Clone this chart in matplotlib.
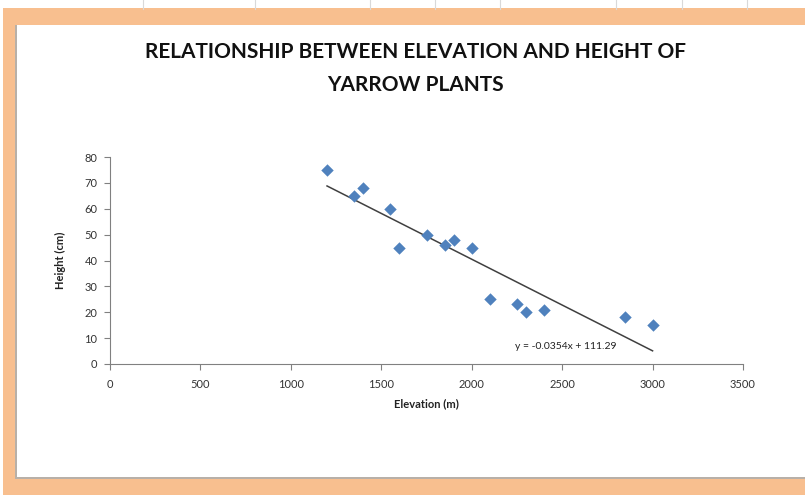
import matplotlib.pyplot as plt
from matplotlib.patches import Rectangle

# Elevation (m) and plant height (cm)
elevation = [1200, 1350, 1400, 1550, 1600, 1750, 1850, 1900, 2000, 2100, 2250, 2300, 2400, 2850, 3000]
height = [75, 65, 68, 60, 45, 50, 46, 48, 45, 25, 23, 20, 21, 18, 15]

# Linear trendline
slope = -0.0354
intercept = 111.29

x_ticks = [0, 500, 1000, 1500, 2000, 2500, 3000, 3500]
y_ticks = [0, 10, 20, 30, 40, 50, 60, 70, 80]

plt.rcParams['font.family'] = ['Lato', 'DejaVu Sans']

W, H = 805, 495
fig = plt.figure(figsize=(W / 100, H / 100), dpi=100)

# spreadsheet cells behind the chart
for gx in [143, 255, 370, 435, 500, 616, 682, 747]:
    fig.add_artist(plt.Line2D([gx / W, gx / W], [1, 1 - 9 / H], color='#d9d9d9', lw=0.8))

# orange frame and white chart box with soft shadow
fig.add_artist(Rectangle((3 / W, 0), 1, 1 - 8 / H, transform=fig.transFigure,
                         facecolor='#f8bf8f', edgecolor='none', zorder=0))
fig.add_artist(Rectangle((15 / W, 1 - 479 / H), 1, (479 - 25) / H, transform=fig.transFigure,
                         facecolor='#b8b0a8', edgecolor='none', zorder=0))
fig.add_artist(Rectangle((17 / W, 1 - 477 / H), 1, (477 - 25) / H, transform=fig.transFigure,
                         facecolor='white', edgecolor='none', zorder=0))

ax = fig.add_axes([110 / W, 1 - 364 / H, 633 / W, 207 / H])
ax.set_facecolor('none')

ax.scatter(elevation, height, marker='D', s=40, color='#4f81bd', zorder=3, linewidths=0)

x0, x1 = min(elevation), max(elevation)
ax.plot([x0, x1], [slope * x0 + intercept, slope * x1 + intercept], color='#404040', lw=1.1, zorder=2)
ax.text(2240, 5.0, f'y = {slope}x + {intercept}', fontsize=7.5, color='#222222', va='bottom')

ax.set_xlim(0, 3500)
ax.set_ylim(0, 80)
ax.set_xticks(x_ticks)
ax.set_yticks(y_ticks)
ax.tick_params(labelsize=8, colors='#808080', labelcolor='#333333', length=4, width=0.8)
ax.tick_params(axis='x', pad=7)
ax.tick_params(axis='y', pad=5)
for side in ['top', 'right']:
    ax.spines[side].set_visible(False)
for side in ['left', 'bottom']:
    ax.spines[side].set_color('#808080')
    ax.spines[side].set_linewidth(0.8)

ax.set_xlabel('Elevation (m)', fontsize=8, fontweight='bold', color='#222222', labelpad=6)
ax.set_ylabel('Height (cm)', fontsize=8, fontweight='bold', color='#222222', labelpad=13)

fig.text(415 / W, 1 - 52 / H, 'RELATIONSHIP BETWEEN ELEVATION AND HEIGHT OF',
         ha='center', va='center', fontsize=15, fontweight='bold', color='#111111')
fig.text(415 / W, 1 - 85 / H, 'YARROW PLANTS',
         ha='center', va='center', fontsize=15, fontweight='bold', color='#111111')

fig.savefig('out.png', dpi=100)
